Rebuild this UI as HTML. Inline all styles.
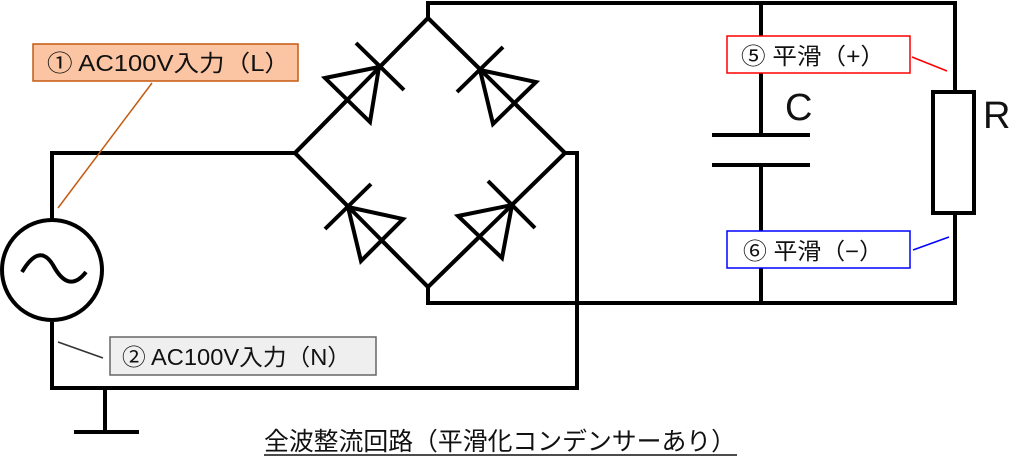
<!DOCTYPE html>
<html><head><meta charset="utf-8"><style>
html,body{margin:0;padding:0;background:#fff;}
svg{display:block;}
text{font-family:"Liberation Sans","Noto Sans CJK JP",sans-serif;}
</style></head><body>
<svg width="1024" height="462" viewBox="0 0 1024 462" xmlns="http://www.w3.org/2000/svg">
<g fill="none" stroke="#000" stroke-width="4" stroke-linecap="butt">
<polyline points="428,3 428,18 295,153 428,287 428,303"/>
<polyline points="428,18 565,153 428,287"/>
<polyline points="295,153 52,153 52,219"/>
<polyline points="565,153 577,153 577,388 52,388 52,322"/>
<circle cx="52" cy="270" r="50"/>
<path d="M22,272 C35,250 45,252 53,265 C61,280 72,290 86,272"/>
<polyline points="105,388 105,432"/>
<line x1="74" y1="432" x2="139" y2="432"/>
<polyline points="426,3 955,3 955,92"/>
<polyline points="426,303 955,303 955,213"/>
<rect x="933" y="92" width="41" height="121"/>
<line x1="761" y1="3" x2="761" y2="135"/>
<line x1="712" y1="135" x2="810" y2="135"/>
<line x1="712" y1="165" x2="810" y2="165"/>
<line x1="761" y1="165" x2="761" y2="303"/>
<polygon points="379,67 325,78 370,122" fill="#fff"/>
<line x1="356" y1="43" x2="404" y2="90"/>
<polygon points="480,70 536,82 493,124" fill="#fff"/>
<line x1="457" y1="92" x2="503" y2="47"/>
<polygon points="348,207 403,219 361,261" fill="#fff"/>
<line x1="325" y1="229" x2="371" y2="184"/>
<polygon points="512,205 458,216 502,258" fill="#fff"/>
<line x1="488" y1="181" x2="535" y2="228"/>
</g>
<g stroke="#000" stroke-width="4">
<line x1="295" y1="153" x2="428" y2="18"/>
<line x1="428" y1="18" x2="565" y2="153"/>
<line x1="295" y1="153" x2="428" y2="287"/>
<line x1="565" y1="153" x2="428" y2="287"/>
</g>
<line x1="152" y1="83" x2="58" y2="208" stroke="#c55a11" stroke-width="1.5"/>
<rect x="33" y="44" width="265" height="37" fill="#fbc4a2" stroke="#c55a11" stroke-width="1.5"/>
<text x="47" y="71" font-size="23" fill="#111" textLength="243" lengthAdjust="spacingAndGlyphs">① AC100V入力（L）</text>
<line x1="58" y1="342" x2="103" y2="358" stroke="#333" stroke-width="1.5"/>
<rect x="110" y="337" width="266" height="38" fill="#efefef" stroke="#666" stroke-width="1.5"/>
<text x="122" y="365" font-size="23" fill="#111" textLength="229" lengthAdjust="spacingAndGlyphs">② AC100V入力（N）</text>
<rect x="727" y="36" width="183" height="37" fill="#fff" stroke="#ff0000" stroke-width="1.5"/>
<text x="741" y="64" font-size="23" fill="#111" textLength="144" lengthAdjust="spacingAndGlyphs">⑤ 平滑（+）</text>
<line x1="912" y1="57" x2="947" y2="71" stroke="#ff0000" stroke-width="1.5"/>
<rect x="727" y="231" width="183" height="37" fill="#fff" stroke="#0000ff" stroke-width="1.5"/>
<text x="743" y="259" font-size="23" fill="#111" textLength="140" lengthAdjust="spacingAndGlyphs">⑥ 平滑（−）</text>
<line x1="913" y1="250" x2="949" y2="237" stroke="#0000ff" stroke-width="1.5"/>
<text x="785" y="120" font-size="38" fill="#111">C</text>
<text x="983" y="128" font-size="38" fill="#111">R</text>
<text x="264" y="450" font-size="25" fill="#111" textLength="472" lengthAdjust="spacingAndGlyphs">全波整流回路（平滑化コンデンサーあり）</text>
<line x1="264" y1="455" x2="737" y2="455" stroke="#111" stroke-width="1.5"/>
</svg>
</body></html>
